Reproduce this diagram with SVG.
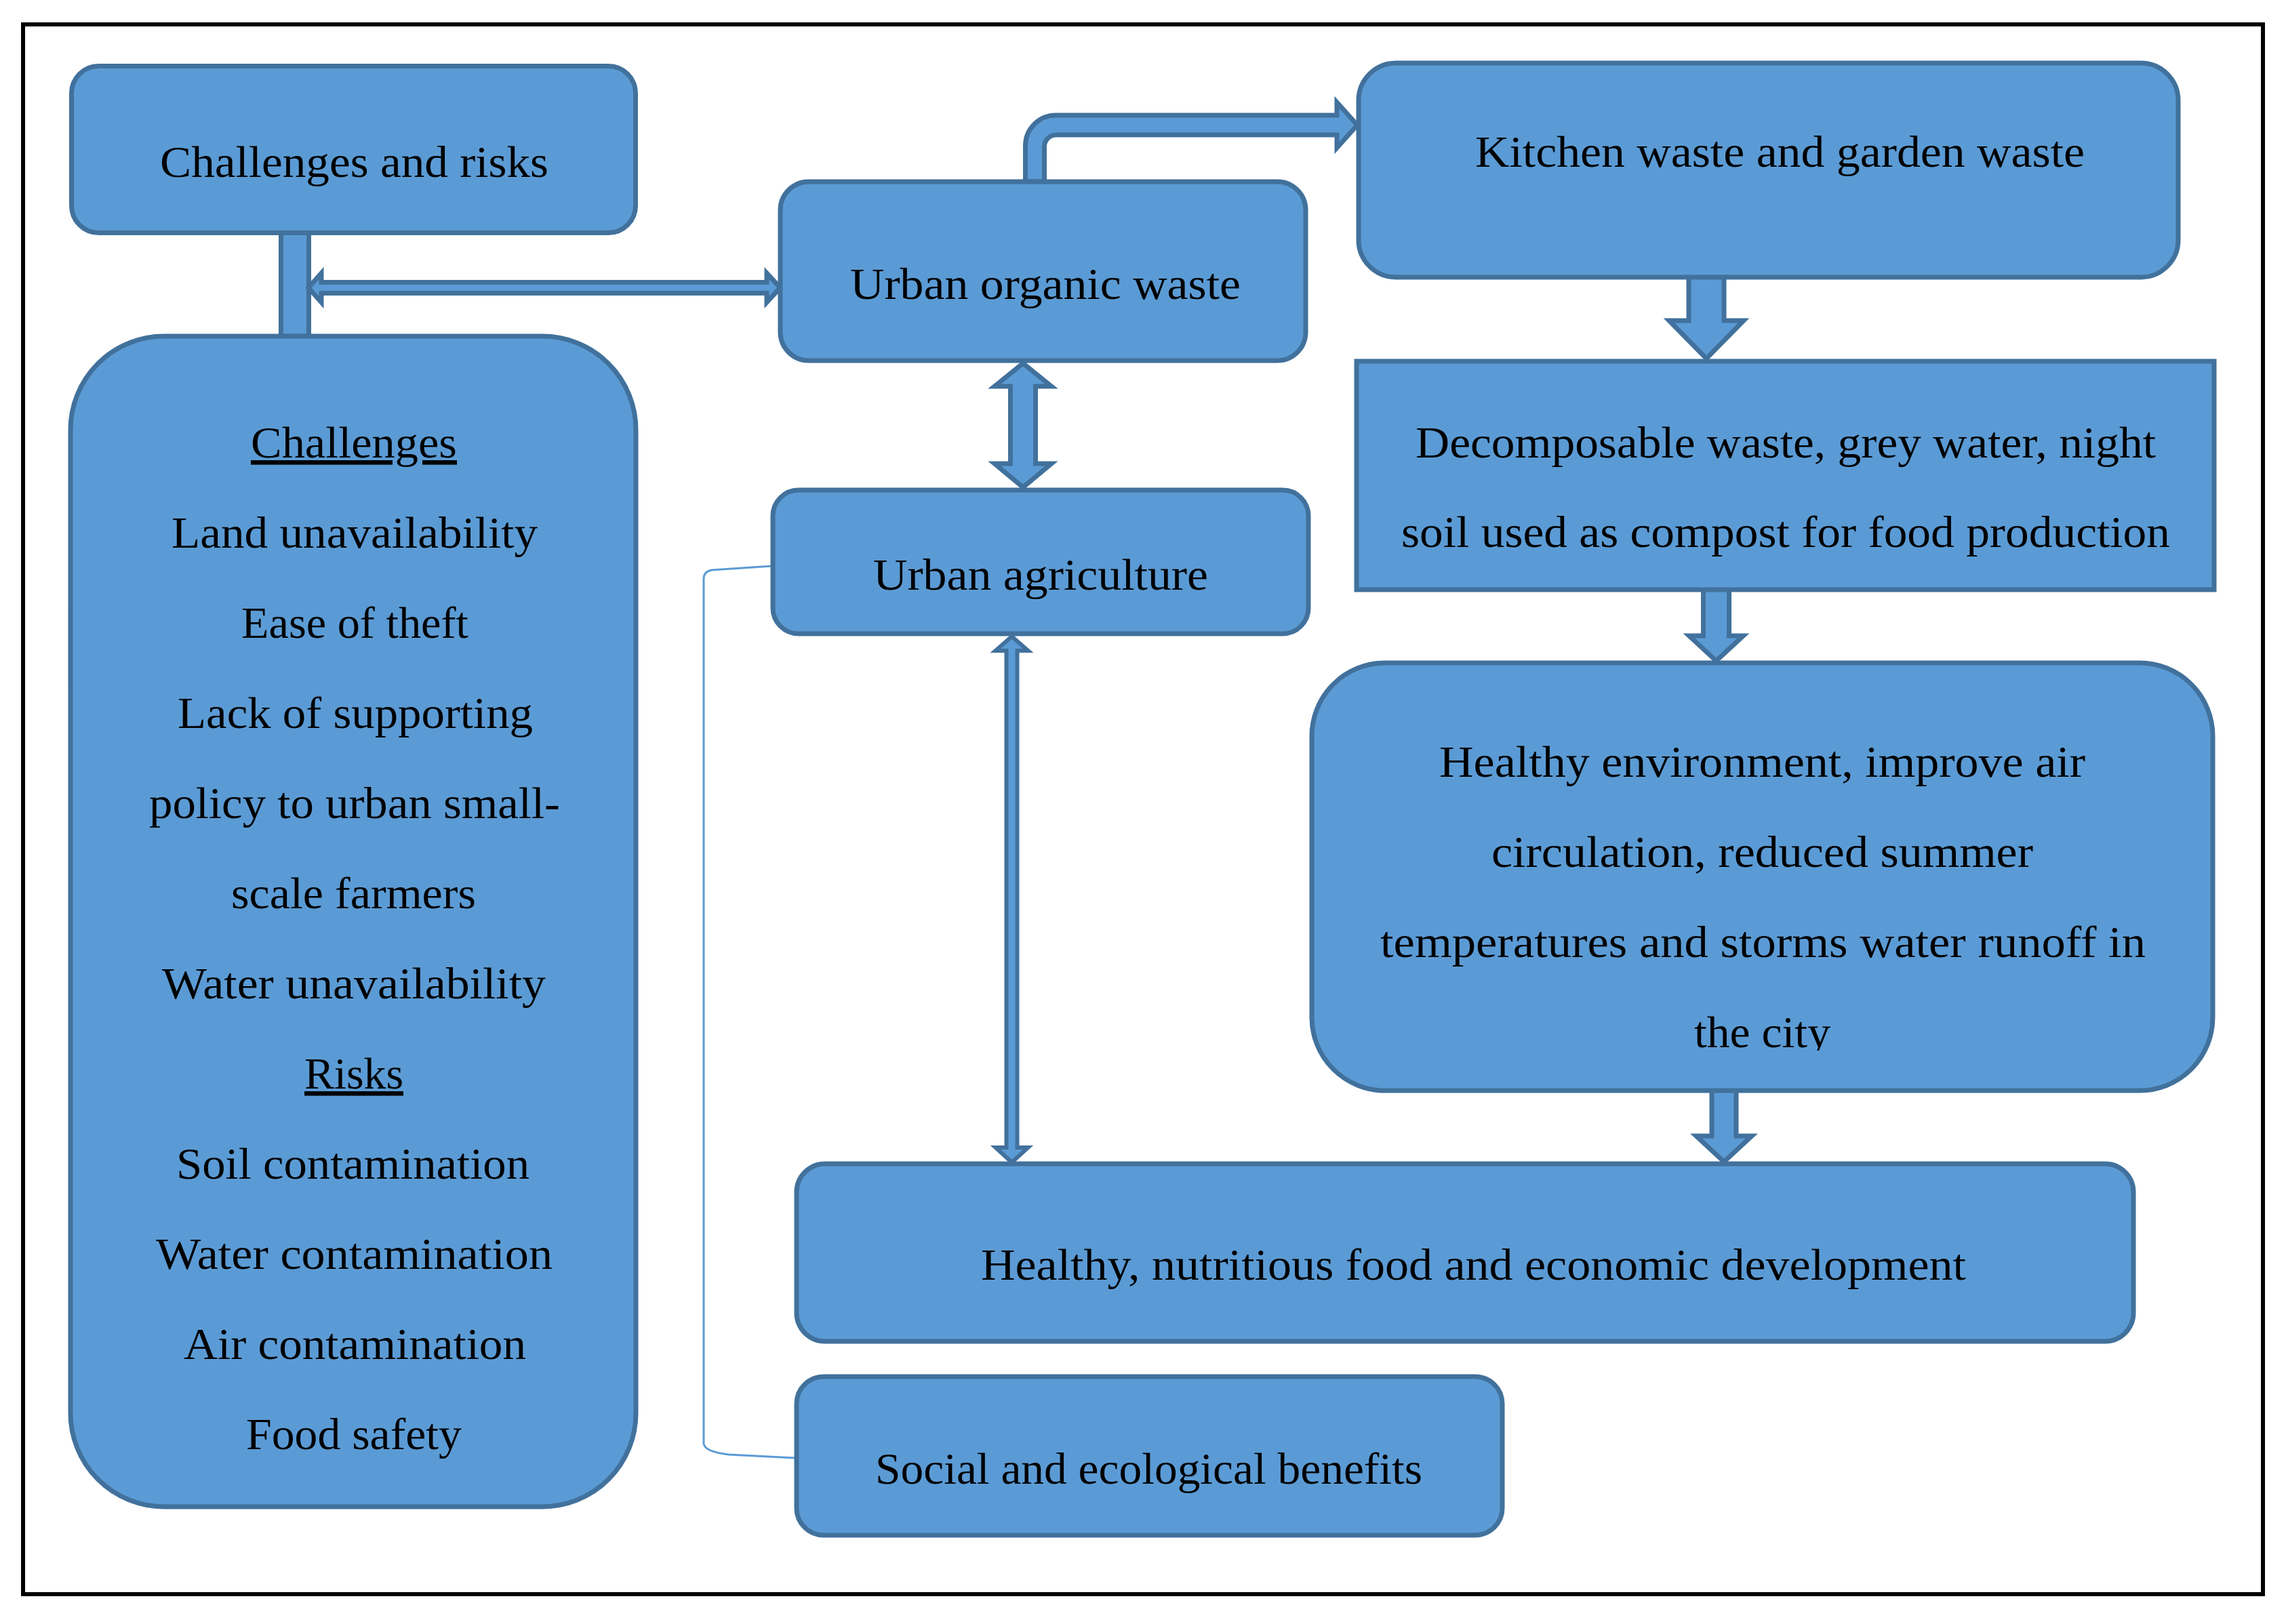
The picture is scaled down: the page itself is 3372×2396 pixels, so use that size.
<svg xmlns="http://www.w3.org/2000/svg" width="3372" height="2396" viewBox="0 0 3372 2396">
<style>
.box{fill:#5B9BD5;stroke:#41719C;stroke-width:7;stroke-linejoin:miter}
.arr{fill:#5B9BD5;stroke:#41719C;stroke-width:7;stroke-linejoin:miter}
.thin{fill:#5B9BD5;stroke:#41719C;stroke-width:6;stroke-linejoin:miter}
.brk{fill:none;stroke:#5B9BD5;stroke-width:3}
.t{font-family:"Liberation Serif","Times New Roman",serif;font-size:66px;fill:#000}
</style>
<defs>
<clipPath id="clipCity"><rect x="1935" y="978" width="1330" height="572"/></clipPath>
</defs>
<rect x="0" y="0" width="3372" height="2396" fill="#fff"/>
<rect x="34" y="36" width="3304" height="2316" fill="none" stroke="#000" stroke-width="6"/>

<g id="connectors">
<rect class="arr" x="414.5" y="343" width="41" height="153"/>
<polygon class="arr" points="455,424.5 474,403 474,416.5 1131,416.5 1131,403 1151,424.5 1131,446 1131,432.5 474,432.5 474,446"/>
<path class="arr" d="M1512.5,268 L1512.5,215 A45,45 0 0 1 1557.5,170 L1972,170 L1972,151 L2002,184.5 L1972,218 L1972,199 L1558,199 A17.5,17.5 0 0 0 1540.5,216.5 L1540.5,268 Z"/>
<polygon class="arr" points="2491,405 2543,405 2543,473 2572,473 2517,529 2462,473 2491,473"/>
<polygon class="arr" points="2512.5,868 2550.5,868 2550.5,938 2571.5,938 2531.5,975 2491.5,938 2512.5,938"/>
<polygon class="arr" points="2525,1607 2561,1607 2561,1676 2584,1676 2543,1714 2502,1676 2525,1676"/>
<polygon class="arr" points="1509,536 1551,570 1527.5,570 1527.5,684 1551,684 1509,719 1467,684 1490.5,684 1490.5,570 1467,570"/>
<polygon class="thin" points="1492.5,939 1516.5,960 1500.5,960 1500.5,1693 1516.5,1693 1492.5,1715 1468.5,1693 1484.5,1693 1484.5,960 1468.5,960"/>
<path class="brk" d="M1140,835 L1050,841 Q1038,843 1038,854 L1038,2130 Q1040,2142 1075,2146 L1172,2151"/>
</g>

<g id="challenges-and-risks">
<rect class="box" x="105.5" y="97.5" width="832" height="246" rx="40" ry="40"/>
<text class="t" x="236" y="261" textLength="573" lengthAdjust="spacingAndGlyphs">Challenges and risks</text>
</g>

<g id="challenges-list">
<rect class="box" x="104" y="496" width="834" height="1727" rx="138" ry="138"/>
<text class="t" x="370" y="675" textLength="304" lengthAdjust="spacingAndGlyphs" text-decoration="underline">Challenges</text>
<text class="t" x="253" y="808" textLength="540" lengthAdjust="spacingAndGlyphs">Land unavailability</text>
<text class="t" x="356" y="941" textLength="335" lengthAdjust="spacingAndGlyphs">Ease of theft</text>
<text class="t" x="262" y="1074" textLength="524" lengthAdjust="spacingAndGlyphs">Lack of supporting</text>
<text class="t" x="220" y="1207" textLength="606" lengthAdjust="spacingAndGlyphs">policy to urban small-</text>
<text class="t" x="341" y="1340" textLength="361" lengthAdjust="spacingAndGlyphs">scale farmers</text>
<text class="t" x="239" y="1473" textLength="566" lengthAdjust="spacingAndGlyphs">Water unavailability</text>
<text class="t" x="449" y="1606" textLength="146" lengthAdjust="spacingAndGlyphs" text-decoration="underline">Risks</text>
<text class="t" x="260" y="1739" textLength="521" lengthAdjust="spacingAndGlyphs">Soil contamination</text>
<text class="t" x="230" y="1872" textLength="585" lengthAdjust="spacingAndGlyphs">Water contamination</text>
<text class="t" x="271" y="2005" textLength="505" lengthAdjust="spacingAndGlyphs">Air contamination</text>
<text class="t" x="363" y="2138" textLength="318" lengthAdjust="spacingAndGlyphs">Food safety</text>
</g>

<g id="urban-organic-waste">
<rect class="box" x="1151" y="268" width="775" height="264" rx="42" ry="42"/>
<text class="t" x="1254" y="441" textLength="576" lengthAdjust="spacingAndGlyphs">Urban organic waste</text>
</g>

<g id="kitchen-waste">
<rect class="box" x="2004" y="93" width="1209" height="316" rx="55" ry="55"/>
<text class="t" x="2176" y="246" textLength="899" lengthAdjust="spacingAndGlyphs">Kitchen waste and garden waste</text>
</g>

<g id="decomposable-waste">
<rect class="box" x="2001" y="533" width="1265" height="337"/>
<text class="t" x="2088" y="675" textLength="1092" lengthAdjust="spacingAndGlyphs">Decomposable waste, grey water, night</text>
<text class="t" x="2067" y="807" textLength="1134" lengthAdjust="spacingAndGlyphs">soil used as compost for food production</text>
</g>

<g id="urban-agriculture">
<rect class="box" x="1140" y="723" width="790" height="212" rx="38" ry="38"/>
<text class="t" x="1288" y="870" textLength="494" lengthAdjust="spacingAndGlyphs">Urban agriculture</text>
</g>

<g id="healthy-environment">
<rect class="box" x="1935" y="978" width="1329" height="631" rx="108" ry="108"/>
<text class="t" x="2123" y="1146" textLength="953" lengthAdjust="spacingAndGlyphs">Healthy environment, improve air</text>
<text class="t" x="2200" y="1279" textLength="799" lengthAdjust="spacingAndGlyphs">circulation, reduced summer</text>
<text class="t" x="2036" y="1412" textLength="1129" lengthAdjust="spacingAndGlyphs">temperatures and storms water runoff in</text>
<text class="t" x="2499" y="1545" textLength="201" lengthAdjust="spacingAndGlyphs" clip-path="url(#clipCity)">the city</text>
</g>

<g id="healthy-food">
<rect class="box" x="1175" y="1717" width="1972" height="262" rx="42" ry="42"/>
<text class="t" x="1447" y="1888" textLength="1453" lengthAdjust="spacingAndGlyphs">Healthy, nutritious food and economic development</text>
</g>

<g id="social-benefits">
<rect class="box" x="1175" y="2031" width="1041" height="234" rx="40" ry="40"/>
<text class="t" x="1291" y="2189" textLength="807" lengthAdjust="spacingAndGlyphs">Social and ecological benefits</text>
</g>
</svg>
